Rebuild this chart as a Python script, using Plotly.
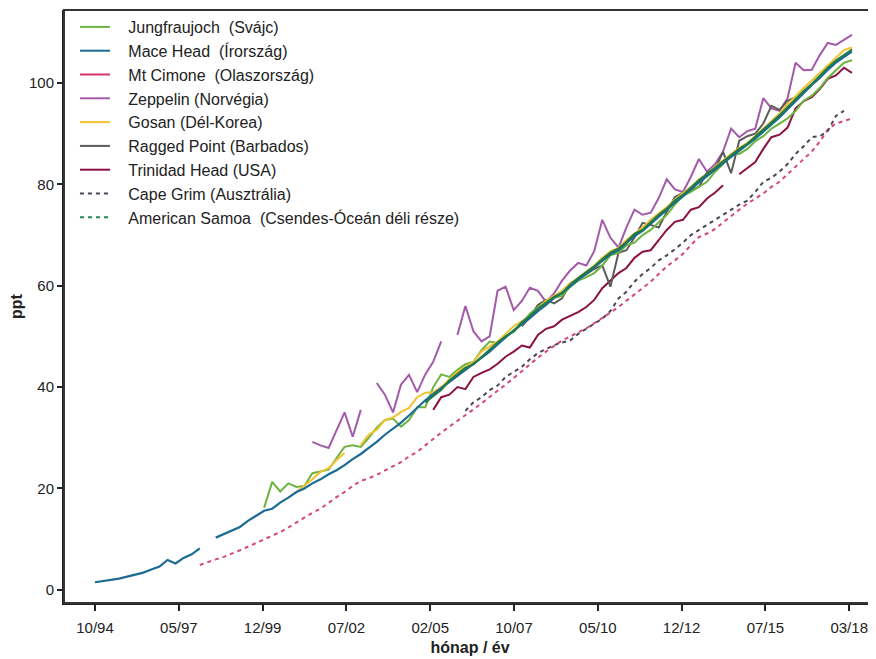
import pandas as pd
import plotly.graph_objects as go

# ---------------- data (quarterly readings, ppt) ----------------
MACE_START = "1994-10-01"
mace = [1.5, 1.7, 2.0, 2.2, 2.6, 3.0, 3.4, 4.0, 4.6, 5.9, 5.2, 6.3, 7.0, 8.2, None,
        10.3, 11.0, 11.8, 12.4, 13.6, 14.6, 15.6, 16.0, 17.2, 18.2, 19.3, 20.0, 21.0,
        21.8, 22.8, 23.6, 24.6, 25.8, 26.8, 28.0, 29.2, 30.6, 31.8, 33.0, 34.4, 36.0,
        37.4, 38.6, 39.8, 41.0, 42.2, 43.4, 44.6, 45.8, 47.0, 48.4, 49.8, 51.2, 52.4,
        53.6, 55.0, 56.2, 57.6, 58.6, 59.8, 61.2, 62.4, 63.6, 65.0, 66.2, 67.0, 68.4,
        69.8, 70.8, 72.2, 73.6, 75.0, 76.4, 77.6, 79.0, 80.4, 81.6, 83.0, 84.2, 85.4,
        86.6, 87.8, 89.0, 90.4, 91.8, 93.2, 94.8, 96.4, 98.0, 99.6, 101.0, 102.6,
        104.0, 105.2, 106.2]

JUNG_START = "2000-01-01"
jung = [16.2, 21.3, 19.4, 21.0, 20.3, 20.5, 23.0, 23.3, 23.7, 26.0, 28.2, 28.5, 28.2,
        30.0, 32.0, 33.5, 33.8, 32.2, 33.5, 36.0, 36.0, 40.0, 42.5, 42.0, 43.4, 44.5,
        45.0, 47.3, 49.0, 48.7, 50.0, 51.0, 52.5, 54.5, 55.8, 57.0, 57.6, 58.0, 59.8,
        61.0, 61.7, 62.5, 64.0, 66.0, 66.5, 68.0, 68.5, 70.0, 71.0, 72.5, 74.0, 76.0,
        77.8, 78.5, 79.5, 80.5, 82.5, 84.0, 86.0, 86.0, 87.0, 88.5, 89.5, 91.0, 92.0,
        93.0, 94.5, 96.5, 97.5, 99.0, 101.0, 102.5, 104.0, 104.5]

ZEP_START = "2001-07-01"
zep = [29.2, 28.5, 28.0, 31.5, 35.0, 30.2, 35.5, None, 40.8, 38.5, 35.0, 40.5, 42.4,
       39.0, 42.5, 45.0, 49.0, None, 50.3, 56.0, 51.0, 49.0, 50.0, 59.0, 59.8, 55.2,
       57.0, 59.6, 59.0, 56.8, 58.5, 61.0, 63.0, 64.5, 64.0, 66.8, 73.0, 69.5, 67.5,
       71.5, 75.0, 74.0, 74.4, 77.3, 81.0, 79.0, 78.5, 81.5, 85.0, 82.5, 84.0, 86.5,
       91.0, 89.3, 90.5, 91.0, 97.0, 95.0, 94.5, 97.0, 104.0, 102.5, 102.6, 105.5,
       107.9, 107.5, 108.5, 109.5]

GOSAN_START = "2001-01-01"
gosan = [19.3, 20.5, 21.8, 23.3, 24.0, 25.6, 27.0, None, 28.6, 30.6, 31.6, 33.5, 34.0,
         35.1, 35.9, 38.0, 38.9, 39.0, 40.0, 41.5, 43.0, 44.0, 45.0, 47.0, 48.0, 49.0,
         50.5, 52.0, 53.0, 54.0, 55.5, 57.0, 58.0, 59.0, 60.5, 61.5, 62.8, 64.0, 65.5,
         66.8, 67.5, 69.0, 70.3, 71.5, 73.0, 74.2, 75.5, 77.0, 78.2, 79.5, 81.0, 82.0,
         83.5, 84.8, 86.0, 87.2, 88.2, 89.5, 91.0, 92.5, 94.0, 95.8, 97.5, 99.0, 100.5,
         102.0, 103.5, 105.0, 106.5, 107.0]

RAGGED_START = "2008-01-01"
ragged = [52.0, 53.8, 56.2, 57.2, 56.5, 57.5, 60.5, 61.3, 62.3, 63.3, 64.0, 59.8, 66.5,
          67.0, 69.5, 72.4, 72.0, 71.5, 74.6, 77.5, 78.3, 78.8, 79.5, 82.4, 83.0, 86.4,
          82.2, 88.6, 89.5, 90.0, 92.0, 95.5, 94.7, 96.5, 97.2]

TRINIDAD_START = "2005-04-01"
trinidad = [35.5, 38.0, 38.5, 40.0, 39.6, 42.0, 42.8, 43.5, 44.6, 46.0, 47.0, 48.2, 47.8,
            50.3, 51.5, 52.0, 53.3, 54.0, 54.8, 55.8, 57.2, 59.5, 61.0, 62.5, 63.5, 65.5,
            66.7, 67.0, 69.0, 71.0, 72.6, 73.0, 75.0, 75.5, 77.2, 78.4, 79.8, None, 82.0,
            83.3, 84.4, 87.0, 89.3, 89.8, 91.2, 95.0, 96.4, 97.2, 98.8, 100.8, 101.5,
            103.0, 102.0]

PINK_DOT_START = "1998-01-01"
pink_dot = [4.9, 5.5, 6.0, 6.5, 7.1, 7.8, 8.5, 9.2, 10.0, 10.7, 11.4, 12.3, 13.3, 14.3,
            15.2, 16.0, 17.2, 18.3, 19.3, 20.5, 21.5, 22.0, 22.7, 23.5, 24.3, 25.2, 26.3,
            27.2, 28.5, 29.8, 31.0, 32.2, 33.3, 34.4, 35.6, 36.8, 38.0, 39.2, 40.5, 41.8,
            43.2, 44.6, 45.8, 47.0, 48.2, 49.2, 50.0, 50.8, 51.6, 52.6, 53.6, 54.7, 55.8,
            57.0, 58.3, 59.6, 60.8, 62.3, 63.8, 65.0, 66.3, 68.0, 69.6, 70.3, 71.2, 72.5,
            73.8, 75.0, 76.2, 77.2, 78.2, 79.5, 80.5, 82.0, 83.4, 85.0, 86.5, 88.4, 90.8,
            92.0, 92.5, 93.0]

GRAY_DOT_START = "2006-04-01"
gray_dot = [35.3, 37.0, 38.0, 39.4, 40.3, 42.0, 43.0, 44.0, 45.5, 46.7, 47.5, 48.3, 48.8,
            49.2, 50.5, 51.5, 52.5, 53.5, 55.0, 57.5, 58.8, 60.8, 62.3, 63.5, 65.0, 66.0,
            67.2, 68.5, 70.0, 71.0, 72.0, 73.0, 74.0, 75.0, 76.0, 76.8, 78.5, 80.5, 81.3,
            82.5, 84.0, 86.0, 87.5, 89.3, 89.5, 90.5, 93.5, 94.5]

DKGREEN_START = "2005-01-01"
dkgreen = [37.0, 38.2, 39.5, 41.3, 42.6, 43.8, 44.5, 46.0, 47.5, 48.8, 50.0, 51.0, 52.8,
           54.0, 55.5, 56.6, 57.8, 58.5, 60.2, 61.5, 62.6, 63.8, 65.2, 66.5, 67.3, 68.6,
           70.2, 71.0, 72.5, 74.0, 75.2, 76.8, 77.9, 79.3, 80.8, 82.0, 83.3, 84.6, 85.8,
           87.0, 88.0, 89.3, 90.8, 92.2, 93.6, 95.2, 96.8, 98.4, 99.8, 101.4, 103.0,
           104.4, 105.6, 106.6]

TICK_LABELS = ["10/94", "05/97", "12/99", "07/02", "02/05", "10/07",
               "05/10", "12/12", "07/15", "03/18"]

LEGEND_NAMES = ["Jungfraujoch  (Svájc)", "Mace Head  (Írország)", "Mt Cimone  (Olaszország)",
                "Zeppelin (Norvégia)", "Gosan (Dél-Korea)", "Ragged Point (Barbados)",
                "Trinidad Head (USA)", "Cape Grim (Ausztrália)",
                "American Samoa  (Csendes-Óceán déli része)"]
LEGEND_COLORS = ["#6db33f", "#1b6b93", "#d6336c", "#a35aaa", "#f2c12e", "#5c5c5c",
                 "#8c1243", "#4f4558", "#1f8a55"]
LEGEND_DASH = ["solid"] * 7 + ["4px,4px", "4px,4px"]

# ---------------- figure ----------------
def qdates(start, n):
    return pd.date_range(start, periods=n, freq="3MS")

fig = go.Figure()

series = [
    (PINK_DOT_START, pink_dot, "#d6457f", "4px,4px", 2.0),
    (GRAY_DOT_START, gray_dot, "#4f4558", "4px,4px", 2.0),
    (ZEP_START, zep, "#a35aaa", "solid", 2.0),
    (TRINIDAD_START, trinidad, "#8c1243", "solid", 2.0),
    (RAGGED_START, ragged, "#5c5c5c", "solid", 2.0),
    (JUNG_START, jung, "#6db33f", "solid", 2.0),
    (GOSAN_START, gosan, "#f2c12e", "solid", 2.0),
    (MACE_START, mace, "#1b6b93", "solid", 2.2),
    (DKGREEN_START, dkgreen, "#1f7a4d", "solid", 2.2),
]
for start, vals, col, dash, w in series:
    fig.add_trace(go.Scatter(x=qdates(start, len(vals)), y=vals, mode="lines",
                             line=dict(color=col, width=w, dash=dash),
                             connectgaps=False, showlegend=False, hoverinfo="skip"))

PAD = "\u00a0\u00a0\u00a0"
for i, (nm, col, dash) in enumerate(zip(LEGEND_NAMES, LEGEND_COLORS, LEGEND_DASH)):
    fig.add_trace(go.Scatter(x=[None], y=[None], mode="lines", name=PAD + nm,
                             legendgroup=f"g{i}",
                             line=dict(color=col, width=2, dash=dash)))

t0 = pd.Timestamp("1994-10-01")
t1 = pd.Timestamp("2018-03-01")
step = (t1 - t0) / 9
tickvals = [t0 + step * k for k in range(10)]
span = 812 / 83.8 * step
x_left = t0 - step * (31 / 83.8)

# the page body adds an 8px offset; figure is sized to fill the remaining window
fig.update_layout(
    width=868, height=651,
    margin=dict(l=56, r=0, t=2, b=56),
    paper_bgcolor="white", plot_bgcolor="white",
    font=dict(family="Liberation Sans, Arial, sans-serif", color="#222", size=15),
    legend=dict(x=0.0135, y=1.0, xanchor="left", yanchor="top",
                bgcolor="rgba(0,0,0,0)", font=dict(size=16, color="#222"),
                tracegroupgap=0, itemwidth=30),
    xaxis=dict(range=[x_left, x_left + span], tickvals=tickvals, ticktext=TICK_LABELS,
               automargin=False,
               showgrid=False, zeroline=False, showline=True, linecolor="#222",
               linewidth=2, ticks="outside", ticklen=6, tickwidth=1.5, tickcolor="#222",
               ticklabelstandoff=4,
               tickfont=dict(size=15, color="#222"),
               title=dict(text="<b>hónap / év</b>", font=dict(size=16, color="#222"),
                          standoff=7)),
    yaxis=dict(range=[-2.6, 114.4], tickvals=[0, 20, 40, 60, 80, 100],
               automargin=False,
               showgrid=False, zeroline=False, showline=True, linecolor="#222",
               linewidth=2, ticks="outside", ticklen=5, tickwidth=1.5, tickcolor="#222",
               tickfont=dict(size=15, color="#222"),
               title=dict(text="<b>ppt</b>", font=dict(size=16, color="#222"),
                          standoff=4)),
    shapes=[dict(type="rect", xref="paper", yref="paper", x0=0, y0=0, x1=1.05, y1=1,
                 line=dict(color="#333", width=2), fillcolor="rgba(0,0,0,0)",
                 layer="above")],
)

fig.write_html("out.html")
